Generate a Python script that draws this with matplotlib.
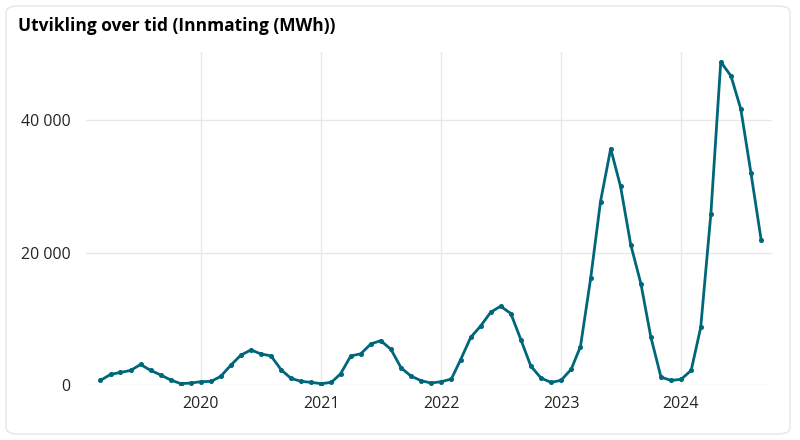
import matplotlib
matplotlib.use('Agg')
import matplotlib.pyplot as plt
import matplotlib.dates as mdates
from matplotlib.patches import FancyBboxPatch
from matplotlib.ticker import FuncFormatter
import pandas as pd

months = pd.date_range('2019-03-01', '2024-09-01', freq='MS')
innmating = [
    0.7, 1.6, 1.9, 2.2, 3.1, 2.2, 1.5, 0.75, 0.2, 0.3,                       # 2019
    0.5, 0.55, 1.3, 3.0, 4.5, 5.3, 4.7, 4.4, 2.3, 1.0, 0.55, 0.4,             # 2020
    0.2, 0.4, 1.7, 4.4, 4.7, 6.2, 6.7, 5.4, 2.6, 1.35, 0.65, 0.3,             # 2021
    0.5, 0.9, 3.8, 7.2, 8.9, 11.0, 11.9, 10.8, 6.8, 2.85, 1.05, 0.4,          # 2022
    0.7, 2.4, 5.8, 16.1, 27.7, 35.7, 30.0, 21.2, 15.3, 7.3, 1.2, 0.7,         # 2023
    0.85, 2.2, 8.7, 25.9, 48.8, 46.7, 41.7, 32.0, 21.9,                       # 2024
]
innmating = [v * 1000 for v in innmating]
y_ticks = [0, 20000, 40000]
title = 'Utvikling over tid (Innmating (MWh))'

plt.rcParams['font.family'] = ['Open Sans', 'DejaVu Sans']

fig = plt.figure(figsize=(8, 4.4), dpi=100)
fig.patch.set_facecolor('white')

# card background, kept behind the axes
card = FancyBboxPatch((6 / 800, 6 / 440), 784 / 800, 428 / 440,
                      boxstyle='round,pad=0,rounding_size=0.015',
                      transform=fig.transFigure, facecolor='white',
                      edgecolor='#e6e6e6', linewidth=1.0, zorder=-5)
fig.patches.append(card)

fig.text(18 / 800, 1 - 26 / 440, title, fontsize=12.5, fontweight='bold',
         color='#000000', va='center', ha='left')

ax = fig.add_axes([86 / 800, 1 - 385 / 440, 686 / 800, 333 / 440])
ax.patch.set_alpha(0)
ax.plot(months, innmating, color='#00667A', linewidth=2.0,
        marker='o', markersize=2.6, solid_joinstyle='round')

ax.set_xlim(pd.Timestamp('2019-01-16'), pd.Timestamp('2024-10-04'))
ax.set_ylim(0, 50300)
ax.set_yticks(y_ticks)
ax.yaxis.set_major_formatter(FuncFormatter(lambda v, p: f'{int(v):,}'.replace(',', ' ')))
ax.xaxis.set_major_locator(mdates.YearLocator())
ax.xaxis.set_major_formatter(mdates.DateFormatter('%Y'))

ax.grid(True, color='#e8e8e8', linewidth=1.0)
ax.set_axisbelow(True)
for s in ax.spines.values():
    s.set_visible(False)
ax.tick_params(length=0, labelsize=11.5, labelcolor='#252423')
ax.tick_params(axis='y', pad=11)
ax.tick_params(axis='x', pad=8)

fig.savefig('out.png', dpi=100)
